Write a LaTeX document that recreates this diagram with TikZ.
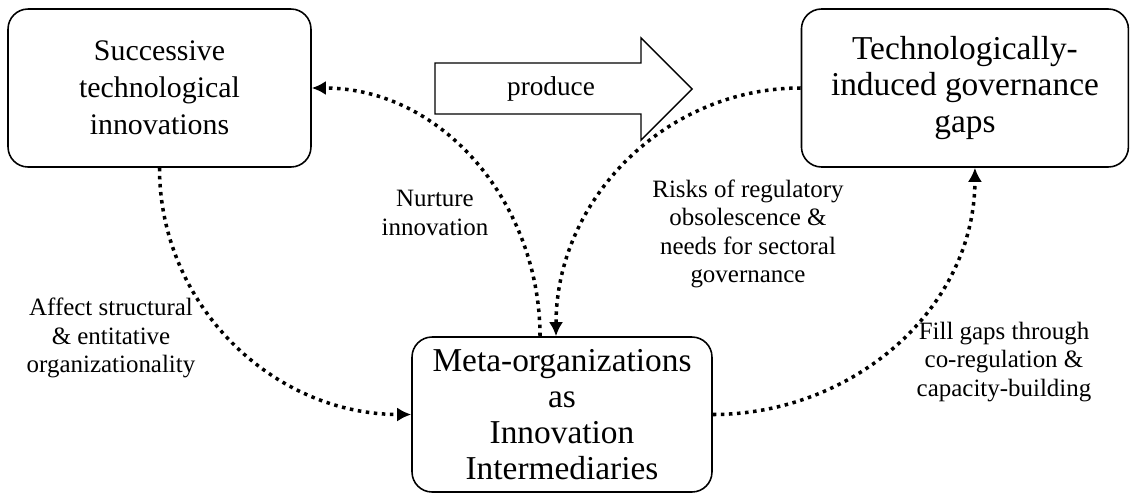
\documentclass[tikz,border=0pt]{standalone}
\usepackage{fontspec}
\setmainfont{Liberation Serif}
\usetikzlibrary{positioning,arrows.meta}
\newcommand{\InnovationText}{Successive\\technological\\innovations}
\newcommand{\GapText}{Technologically-\\induced governance\\gaps}
\newcommand{\MetaText}{Meta-organizations\\as\\Innovation\\Intermediaries}
\def\BoxHeight{3.16cm}
\def\BoxGap{9.78cm}
\tikzset{
  influence/.style={-{Latex[length=8pt,width=8pt]},line width=2pt,dash pattern=on 2pt off 2.6pt},
  entity/.style={
    rectangle,
    rounded corners=0.4cm,
    draw=black,
    line width=0.9pt,
    align=center,
    inner sep=0pt,
    font=\fontsize{17}{21}\selectfont
  },
  bigentity/.style={entity,font=\fontsize{19}{20.6}\selectfont},
  note/.style={align=center,font=\fontsize{14.2}{16.2}\selectfont}
}
\begin{document}
\begin{tikzpicture}[x=0.02cm,y=-0.02cm]
  \useasboundingbox (0,0) rectangle (1135,494);

  \node[entity, minimum width=6.06cm, minimum height=\BoxHeight] (innov) at (159.5,88) {\InnovationText};
  \node[bigentity, minimum width=6.54cm, minimum height=\BoxHeight, right=\BoxGap of innov] (gaps) {\GapText};
  \node[bigentity, minimum width=6cm, minimum height=3.1cm] (meta) at (562,414.5) {\MetaText};

  % Block arrow between the two upper boxes.
  \draw[line width=0.8pt]
    (435,63) -- (641,63) -- (641,38) -- (692,89) -- (641,140) -- (641,114) -- (435,114) -- cycle;
  \node[font=\fontsize{15.5}{18}\selectfont] (produce) at (551,89) {produce};

  \node[note] (affect) at (111,338) {Affect structural\\\& entitative\\organizationality};
  \node[note] (nurture) at (435,213) {Nurture\\innovation};
  \node[note] (risks) at (748,234) {Risks of regulatory\\obsolescence \&\\needs for sectoral\\governance};
  \node[note] (fill) at (1004,362) {Fill gaps through\\co-regulation \&\\capacity-building};

  \draw[influence] (innov.south) to[out=-90,in=180] (meta.west);
  \draw[influence] ([xshift=-0.44cm]meta.north) to[out=90,in=0] (innov.east);
  \draw[influence] (gaps.west) to[out=180,in=90] ([xshift=-0.12cm]meta.north);
  \draw[influence] (meta.east) to[out=0,in=-90] ([xshift=0.2cm]gaps.south);
\end{tikzpicture}
\end{document}
